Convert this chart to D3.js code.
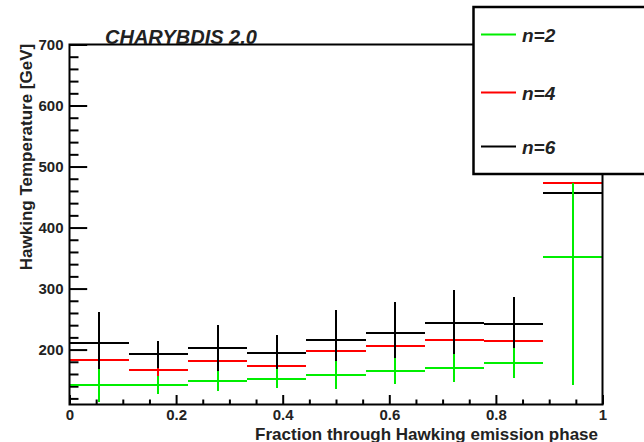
<!DOCTYPE html>
<html>
<head>
<meta charset="utf-8">
<script src="https://cdn.jsdelivr.net/npm/d3@7"></script>
<style>
  html, body { margin: 0; padding: 0; background: #fff; }
  svg { display: block; font-family: "Liberation Sans", Arial, Helvetica, sans-serif; }
</style>
</head>
<body>
<svg id="chart" width="644" height="442"></svg>
<script>
// Histogram bin edges along the Hawking emission phase
const binEdges = [0, 0.1111, 0.2222, 0.3333, 0.4444, 0.5556, 0.6667, 0.7778, 0.8889, 1];

// Mean Hawking temperature per bin [GeV] and error bar extents
const seriesNames = ["n=2", "n=4", "n=6"];
const tempN2 = [141.5, 141.5, 148.5, 152.5, 158.4, 164.4, 169.3, 178.0, 351.6];
const errUpN2 = [27, 15, 16, 16, 23, 21.5, 22.7, 24, 121];
const errDownN2 = [27, 15, 16, 16, 23, 21.5, 22.7, 24, 210];

const tempN4 = [182.5, 166.6, 180.8, 172.6, 197.2, 205.4, 216.4, 213.6, 473.0];
const errUpN4 = [38, 19, 27, 22, 35, 36, 38, 34, 0];
const errDownN4 = [38, 19, 27, 22, 35, 36, 38, 34, 0];

const tempN6 = [210.8, 192.3, 202.6, 194.5, 216.4, 227.9, 244.3, 241.5, 456.6];
const errUpN6 = [50, 22, 37, 29, 48, 50, 53, 45, 0];
const errDownN6 = [50, 22, 37, 29, 48, 50, 53, 45, 0];

// Axis ticks
const xMajorTicks = [0, 0.2, 0.4, 0.6, 0.8, 1];
const xTickLabels = ["0", "0.2", "0.4", "0.6", "0.8", "1"];
const xMinorTicks = [0.05, 0.1, 0.15, 0.25, 0.3, 0.35, 0.45, 0.5, 0.55, 0.65, 0.7, 0.75, 0.85, 0.9, 0.95];
const yMajorTicks = [200, 300, 400, 500, 600, 700];
const yTickLabels = ["200", "300", "400", "500", "600", "700"];
const yMinorTicks = [120, 140, 160, 180, 220, 240, 260, 280, 320, 340, 360, 380, 420, 440, 460, 480, 520, 540, 560, 580, 620, 640, 660, 680];

const colors = { "n=2": "#00ee00", "n=4": "#ff0000", "n=6": "#000000" };

const frame = { left: 69.5, right: 602.5, top: 44.5, bottom: 404.5 };

const svg = d3.select("#chart");

const x = d3.scaleLinear().domain([0, 1]).range([frame.left, frame.right]);
const y = d3.scaleLinear().domain([110, 700]).range([frame.bottom, frame.top]);

// Axes: ticks point into the frame
const xMajor = d3.axisBottom(x).tickValues(xMajorTicks).tickSize(-9.5).tickPadding(4.5)
  .tickFormat((d, i) => xTickLabels[i]);
const xMinor = d3.axisBottom(x).tickValues(xMinorTicks).tickSize(-5).tickFormat("");
const yMajor = d3.axisLeft(y).tickValues(yMajorTicks).tickSize(-17.7).tickPadding(6)
  .tickFormat((d, i) => yTickLabels[i]);
const yMinor = d3.axisLeft(y).tickValues(yMinorTicks).tickSize(-9).tickFormat("");

function styleAxis(g) {
  g.select(".domain").remove();
  g.selectAll(".tick line").attr("stroke", "#000").attr("stroke-width", 2);
  g.selectAll(".tick text").attr("fill", "#222").style("font-size", "15px").style("font-weight", "bold");
}

svg.append("g").attr("transform", `translate(0,${frame.bottom})`).call(xMinor).call(styleAxis);
svg.append("g").attr("transform", `translate(0,${frame.bottom})`).call(xMajor).call(styleAxis);
svg.append("g").attr("transform", `translate(${frame.left},0)`).call(yMinor).call(styleAxis);
svg.append("g").attr("transform", `translate(${frame.left},0)`).call(yMajor).call(styleAxis);

// Histogram with error bars
function drawSeries(name, values, errUp, errDown) {
  const g = svg.append("g").attr("stroke", colors[name]).attr("stroke-width", 2)
    .attr("shape-rendering", "crispEdges");
  const bins = values.map((v, i) => ({
    x0: binEdges[i], x1: binEdges[i + 1], xc: (binEdges[i] + binEdges[i + 1]) / 2,
    v, up: errUp[i], down: errDown[i]
  }));
  g.selectAll("line.bar").data(bins).join("line").attr("class", "bar")
    .attr("x1", d => x(d.x0)).attr("x2", d => x(d.x1))
    .attr("y1", d => Math.round(y(d.v))).attr("y2", d => Math.round(y(d.v)));
  g.selectAll("line.err").data(bins.filter(d => d.up > 0 || d.down > 0)).join("line").attr("class", "err")
    .attr("x1", d => Math.round(x(d.xc))).attr("x2", d => Math.round(x(d.xc)))
    .attr("y1", d => y(d.v + d.up)).attr("y2", d => y(d.v - d.down));
}

drawSeries("n=4", tempN4, errUpN4, errDownN4);
drawSeries("n=6", tempN6, errUpN6, errDownN6);
drawSeries("n=2", tempN2, errUpN2, errDownN2);

// Frame
svg.append("rect")
  .attr("x", frame.left).attr("y", frame.top)
  .attr("width", frame.right - frame.left).attr("height", frame.bottom - frame.top)
  .attr("fill", "none").attr("stroke", "#000").attr("stroke-width", 2);

// Title
svg.append("text")
  .attr("x", 105).attr("y", 44)
  .style("font-size", "20px").style("font-weight", "bold").style("font-style", "italic")
  .attr("fill", "#222")
  .text("CHARYBDIS 2.0");

// Axis titles
svg.append("text")
  .attr("x", 598).attr("y", 439.5).attr("text-anchor", "end")
  .style("font-size", "17px").style("font-weight", "bold").attr("fill", "#222")
  .text("Fraction through Hawking emission phase");

svg.append("text")
  .attr("transform", "translate(32,157) rotate(-90)")
  .attr("text-anchor", "middle")
  .style("font-size", "17px").style("font-weight", "bold").attr("fill", "#222")
  .text("Hawking Temperature [GeV]");

// Legend
const legend = svg.append("g");
legend.append("rect")
  .attr("x", 473.5).attr("y", 7).attr("width", 190).attr("height", 167)
  .attr("fill", "#fff").attr("stroke", "#000").attr("stroke-width", 2.5);

const legendRows = [34.5, 92.5, 146.5];
seriesNames.forEach((name, i) => {
  legend.append("line")
    .attr("x1", 481).attr("x2", 516).attr("y1", legendRows[i]).attr("y2", legendRows[i])
    .attr("stroke", colors[name]).attr("stroke-width", 2);
  legend.append("text")
    .attr("x", 522).attr("y", legendRows[i] + 7)
    .style("font-size", "19px").style("font-weight", "bold").style("font-style", "italic")
    .attr("fill", "#222")
    .text(name);
});
</script>
</body>
</html>
